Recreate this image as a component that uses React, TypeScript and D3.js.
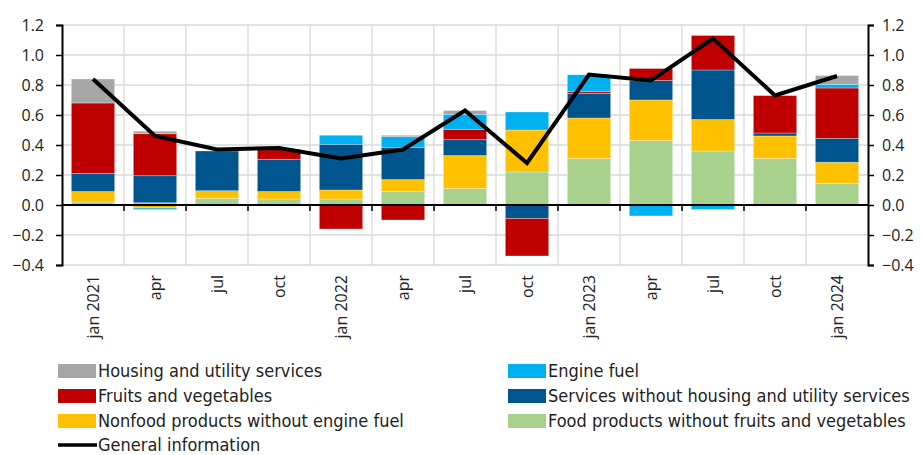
import React, { useEffect, useRef } from 'react'
import * as d3 from 'd3'

const periods = ['jan 2021', 'apr', 'jul', 'oct', 'jan 2022', 'apr', 'jul', 'oct', 'jan 2023', 'apr', 'jul', 'oct', 'jan 2024']

const foodProducts = [0.02, 0.015, 0.045, 0.04, 0.04, 0.09, 0.11, 0.22, 0.31, 0.43, 0.36, 0.31, 0.145]
const nonfoodProducts = [0.07, -0.02, 0.05, 0.05, 0.06, 0.08, 0.22, 0.28, 0.27, 0.27, 0.21, 0.15, 0.14]
const servicesOther = [0.12, 0.18, 0.265, 0.215, 0.305, 0.215, 0.105, -0.09, 0.165, 0.13, 0.33, 0.02, 0.16]
const fruitsVeg = [0.47, 0.28, 0, 0.065, -0.16, -0.1, 0.07, -0.25, 0.01, 0.08, 0.23, 0.25, 0.335]
const engineFuel = [0, -0.01, 0, 0, 0.06, 0.07, 0.1, 0.12, 0.113, -0.073, -0.03, 0, 0.025]
const housingUtility = [0.16, 0.017, 0, 0, 0, 0.01, 0.025, 0, 0, 0, 0, 0.003, 0.058]
const generalInfo = [0.84, 0.46, 0.37, 0.38, 0.31, 0.37, 0.63, 0.28, 0.87, 0.83, 1.11, 0.73, 0.86]

const yTicks = [-0.4, -0.2, 0, 0.2, 0.4, 0.6, 0.8, 1.0, 1.2]

const series = [
  { key: 'food', label: 'Food products without fruits and vegetables', color: '#a9d18e', values: foodProducts },
  { key: 'nonfood', label: 'Nonfood products without engine fuel', color: '#ffc000', values: nonfoodProducts },
  { key: 'services', label: 'Services without housing and utility services', color: '#00558f', values: servicesOther },
  { key: 'fruits', label: 'Fruits and vegetables', color: '#c00000', values: fruitsVeg },
  { key: 'fuel', label: 'Engine fuel', color: '#00b0f0', values: engineFuel },
  { key: 'housing', label: 'Housing and utility services', color: '#a6a6a6', values: housingUtility }
]

// legend layout as in the picture: two columns
const legendLeft = ['housing', 'fruits', 'nonfood']
const legendRight = ['fuel', 'services', 'food']

const W = 922
const H = 455
const margin = { top: 25, right: 54, bottom: 190, left: 62 }

const App = () => {
  const ref = useRef<SVGSVGElement>(null)

  useEffect(() => {
    const svg = d3.select(ref.current)
    svg.selectAll('*').remove()

    const width = W - margin.left - margin.right
    const height = H - margin.top - margin.bottom
    const tickFont = '"Open Sans", "DejaVu Sans", sans-serif'
    const legendFont = '"Liberation Sans Narrow", "DejaVu Sans Condensed", sans-serif'

    const idx = periods.map((_, i) => i)
    const x = d3.scaleBand<number>().domain(idx).range([0, width]).paddingInner(0.3).paddingOuter(0.15)
    const xOuter = d3.scaleBand<number>().domain(idx).range([0, width])
    const y = d3.scaleLinear().domain([-0.4, 1.2]).range([height, 0])

    const rows = idx.map(i => {
      const r: any = { i }
      series.forEach(s => { r[s.key] = s.values[i] })
      return r
    })
    const stacked = d3.stack<any>()
      .keys(series.map(s => s.key))
      .offset(d3.stackOffsetDiverging)(rows)

    const g = svg.append('g').attr('transform', `translate(${margin.left},${margin.top})`)

    // grid
    g.append('g').selectAll('line').data(yTicks).join('line')
      .attr('x1', 0).attr('x2', width)
      .attr('y1', d => y(d)).attr('y2', d => y(d))
      .attr('stroke', '#d9d9d9').attr('stroke-width', 1.3)
    g.append('g').selectAll('line').data(idx.slice(1)).join('line')
      .attr('x1', d => xOuter(d)!).attr('x2', d => xOuter(d)!)
      .attr('y1', 0).attr('y2', height)
      .attr('stroke', '#d9d9d9').attr('stroke-width', 1.3)

    // bars
    stacked.forEach((layer, li) => {
      g.append('g').selectAll('rect').data(layer).join('rect')
        .attr('x', d => x(d.data.i)!)
        .attr('width', x.bandwidth())
        .attr('y', d => y(Math.max(d[0], d[1])))
        .attr('height', d => Math.abs(y(d[0]) - y(d[1])))
        .attr('fill', series[li].color)
        .attr('stroke', 'rgba(255,255,255,0.5)')
        .attr('stroke-width', 0.6)
    })

    // zero line with ticks
    g.append('line')
      .attr('x1', 0).attr('x2', width)
      .attr('y1', y(0)).attr('y2', y(0))
      .attr('stroke', '#000').attr('stroke-width', 2)
    g.append('g').selectAll('line').data(idx.slice(1)).join('line')
      .attr('x1', d => xOuter(d)!).attr('x2', d => xOuter(d)!)
      .attr('y1', y(0)).attr('y2', y(0) + 6)
      .attr('stroke', '#000').attr('stroke-width', 1.5)

    // general line
    const line = d3.line<number>()
      .x((_, i) => x(i)! + x.bandwidth() / 2)
      .y(d => y(d))
    g.append('path')
      .attr('d', line(generalInfo))
      .attr('fill', 'none')
      .attr('stroke', '#000')
      .attr('stroke-width', 4)
      .attr('stroke-linejoin', 'miter')

    // y axes
    const yLeft = d3.axisLeft(y).tickValues(yTicks).tickFormat(d3.format('.1f')).tickSize(6).tickPadding(12)
    const yRight = d3.axisRight(y).tickValues(yTicks).tickFormat(d3.format('.1f')).tickSize(6).tickPadding(8)
    const styleAxis = (sel: any) => {
      sel.select('.domain').attr('stroke', '#000').attr('stroke-width', 2)
      sel.selectAll('.tick line').attr('stroke', '#000').attr('stroke-width', 1.5)
      sel.selectAll('.tick text')
        .attr('font-family', tickFont).attr('font-size', 16).attr('fill', '#222')
    }
    g.append('g').call(yLeft).call(styleAxis)
    g.append('g').attr('transform', `translate(${width},0)`).call(yRight).call(styleAxis)

    // x labels
    g.append('g').selectAll('text').data(idx).join('text')
      .attr('transform', d => `translate(${x(d)! + x.bandwidth() / 2},${height + 10}) rotate(-90)`)
      .attr('text-anchor', 'end')
      .attr('dy', '0.35em')
      .attr('font-family', tickFont)
      .attr('font-size', 16)
      .attr('fill', '#222')
      .text(d => periods[d])

    // legend
    const legend = svg.append('g')
    const rowY = [371, 396, 421, 445]
    const drawItem = (key: string, lx: number, ly: number) => {
      const s = series.find(v => v.key === key)!
      legend.append('rect').attr('x', lx).attr('y', ly - 7).attr('width', 38).attr('height', 14).attr('fill', s.color)
      legend.append('text').attr('x', lx + 40).attr('y', ly).attr('dy', '0.35em')
        .attr('font-family', legendFont).attr('font-size', 18).attr('fill', '#222')
        .text(s.label)
    }
    legendLeft.forEach((k, i) => drawItem(k, 58, rowY[i]))
    legendRight.forEach((k, i) => drawItem(k, 508, rowY[i]))
    legend.append('line').attr('x1', 58).attr('x2', 97).attr('y1', rowY[3]).attr('y2', rowY[3])
      .attr('stroke', '#000').attr('stroke-width', 3.5)
    legend.append('text').attr('x', 98).attr('y', rowY[3]).attr('dy', '0.35em')
      .attr('font-family', legendFont).attr('font-size', 18).attr('fill', '#222')
      .text('General information')
  }, [])

  return (
    <div style={{ position: 'absolute', left: 0, top: 0 }}>
      <svg ref={ref} width={W} height={H} style={{ display: 'block', background: '#fff' }} />
    </div>
  )
}

export default App
